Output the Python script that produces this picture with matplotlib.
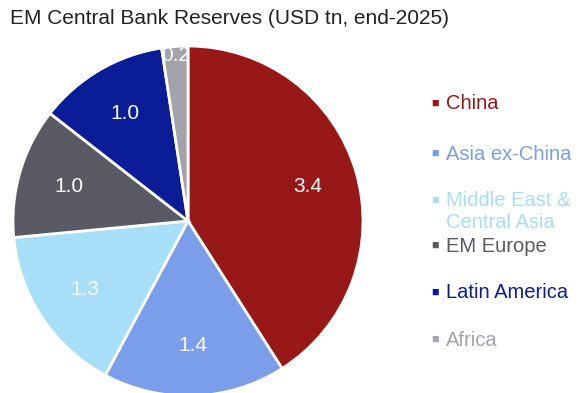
import matplotlib
matplotlib.use("Agg")
import matplotlib.pyplot as plt
import numpy as np

plt.rcParams["font.family"] = ["Liberation Sans", "DejaVu Sans"]

regions = ["China", "Asia ex-China", "Middle East &\nCentral Asia", "EM Europe", "Latin America", "Africa"]
reserves = [3.4, 1.4, 1.3, 1.0, 1.0, 0.2]
colours = ["#981717", "#7a9ee9", "#a7def8", "#5a5a64", "#0a1d96", "#a3a3ab"]

fig = plt.figure(figsize=(5.84, 3.93), dpi=100)
W, H = 584, 393

# pie centred at (188, 221) px with radius 175 px
cx, cy, r = 188, 221, 175
ax = fig.add_axes([(cx - r) / W, (H - cy - r) / H, 2 * r / W, 2 * r / H])
wedges, _ = ax.pie(
    reserves,
    colors=colours,
    startangle=90,
    counterclock=False,
    radius=1,
    wedgeprops=dict(edgecolor="white", linewidth=2),
)
ax.set_xlim(-1, 1)
ax.set_ylim(-1, 1)
ax.set_aspect("equal")
ax.axis("off")

for w, val in zip(wedges, reserves):
    mid = np.deg2rad((w.theta1 + w.theta2) / 2)
    dist = 0.95 if val < 0.5 else 0.71
    ax.text(dist * np.cos(mid), dist * np.sin(mid), f"{val:.1f}",
            ha="center", va="center", color="white", fontsize=15)

fig.text(10 / W, 1 - 19 / H, "EM Central Bank Reserves (USD tn, end-2025)",
         ha="left", va="center", fontsize=15, color="#222222")

# legend: square marker on the first line, wrapped names continue below
legend_y = [104, 154, 201, 246, 293, 340]
line_gap = 22
for name, col, y in zip(regions, colours, legend_y):
    fig.text(435 / W, 1 - y / H, "\u25a0", ha="center", va="center",
             fontsize=9, color=col)
    for k, line in enumerate(name.split("\n")):
        fig.text(446 / W, 1 - (y + k * line_gap) / H, line, ha="left", va="center",
                 fontsize=14.5, color=col)

fig.savefig("out.png", dpi=100)
